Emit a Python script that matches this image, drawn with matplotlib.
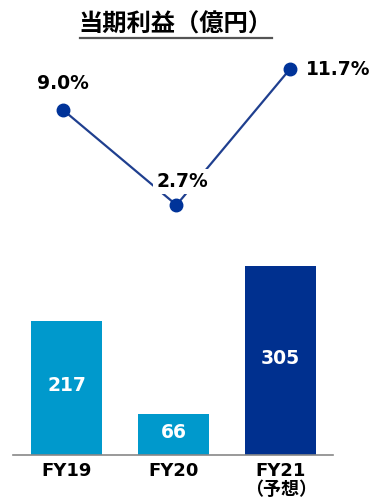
import matplotlib.pyplot as plt
from matplotlib.lines import Line2D

plt.rcParams['font.family'] = ['DejaVu Sans', 'Noto Sans CJK JP']

# data
years = ["FY19", "FY20", "FY21\n（予想）"]
profit = [217, 66, 305]            # 当期利益 (億円)
margin = [9.0, 2.7, 11.7]          # 利益率 (%)
bar_colors = ["#0099cc", "#0099cc", "#00308f"]
line_color = "#1f3f8f"
dot_color = "#003399"

fig = plt.figure(figsize=(3.73, 5.0), dpi=100)

# bars
ax = fig.add_axes([13/373, 0.09, 320/373, 205/500])
bars = ax.bar(range(3), profit, width=0.664, color=bar_colors)
ax.set_xlim(-0.5, 2.49)
ax.set_ylim(0, 331)
for b, v in zip(bars, profit):
    ax.text(b.get_x() + b.get_width()/2, v/2 + 4, str(v),
            ha="center", va="center", color="white", fontsize=13.5, fontweight="bold")
for s in ["top", "right", "left"]:
    ax.spines[s].set_visible(False)
ax.spines["bottom"].set_color("#888888")
ax.spines["bottom"].set_linewidth(1.2)
ax.set_yticks([])
ax.set_xticks(range(3))
ax.set_xticklabels(years, fontsize=13, fontweight="bold", linespacing=1.05)
ax.tick_params(axis="x", length=0, pad=5)

# margin line
lx = fig.add_axes([13/373, 0.56, 320/373, 0.32])
lx.plot(range(3), margin, color=line_color, lw=1.6, marker="o",
        markersize=9, markerfacecolor=dot_color, markeredgecolor=dot_color)
lx.set_xlim(-0.44, 2.379)
lx.set_ylim(1.71, 12.3)
lx.axis("off")
lx.annotate("9.0%", (0, margin[0]), xytext=(0, 19), textcoords="offset points",
            ha="center", va="center", fontsize=13.5, fontweight="bold")
lx.annotate("2.7%", (1, margin[1]), xytext=(4, 17), textcoords="offset points",
            ha="center", va="center", fontsize=13.5, fontweight="bold",
            bbox=dict(boxstyle="square,pad=0.15", fc="white", ec="none"))
lx.annotate("11.7%", (2, margin[2]), xytext=(35, 0), textcoords="offset points",
            ha="center", va="center", fontsize=13.5, fontweight="bold")

# title with underline
fig.text(175/373, 1 - 25/500, "当期利益（億円）", ha="center", va="center",
         fontsize=17.5, fontweight="bold", family=["Noto Sans CJK JP", "DejaVu Sans"])
fig.add_artist(Line2D([80/373, 272/373], [1 - 38/500, 1 - 38/500],
                      color="#555555", lw=1.6))

fig.savefig("out.png", dpi=100)
